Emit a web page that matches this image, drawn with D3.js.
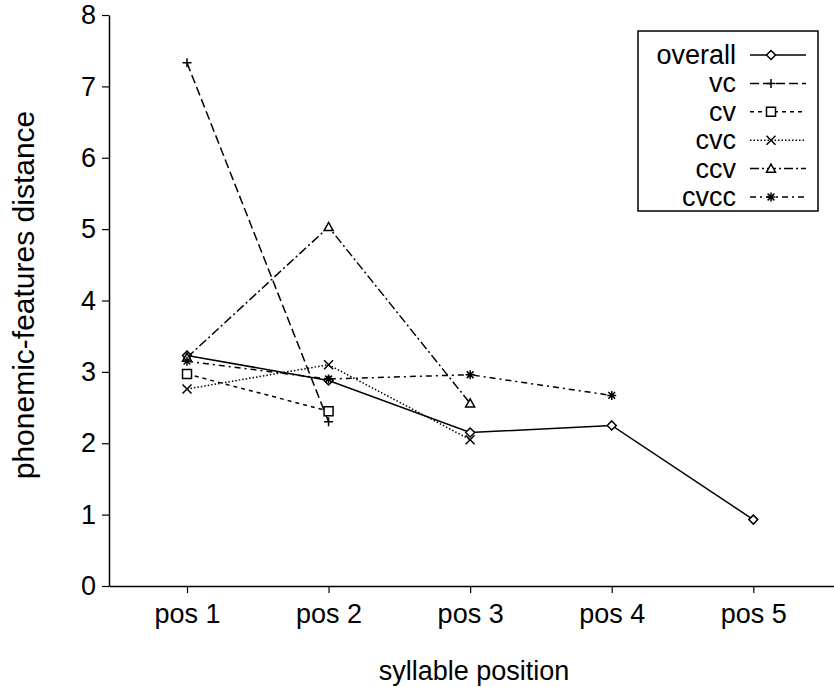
<!DOCTYPE html>
<html>
<head>
<meta charset="utf-8">
<script src="https://cdn.jsdelivr.net/npm/d3@7"></script>
<style>
  body { margin: 0; background: #fff; }
  text { font-family: "Liberation Sans", Arial, sans-serif; fill: #000; }
</style>
</head>
<body>
<script>
// data
const positions = [1, 2, 3, 4, 5];
const posLabels = ["pos 1", "pos 2", "pos 3", "pos 4", "pos 5"];
const yTicks = [0, 1, 2, 3, 4, 5, 6, 7, 8];

const seriesNames = ["overall", "vc", "cv", "cvc", "ccv", "cvcc"];
const overall = [3.23, 2.88, 2.15, 2.25, 0.93];
const vc = [7.33, 2.3];
const cv = [2.97, 2.45];
const cvc = [2.76, 3.1, 2.05];
const ccv = [3.2, 5.03, 2.56];
const cvcc = [3.15, 2.9, 2.96, 2.67];

const seriesValues = [overall, vc, cv, cvc, ccv, cvcc];
const dashes = [null, "9,4", "4,4", "1.5,2", "9,3,2,3", "6,4,2,4"];
const markers = ["diamond", "plus", "square", "cross", "triangle", "star"];

const width = 834, height = 687;

let svg = d3.select("body").append("svg")
    .attr("width", width)
    .attr("height", height);

let x = d3.scaleLinear().domain([0.449, 5.57]).range([109, 834]);
let y = d3.scaleLinear().domain([0, 8]).range([586, 15]);

// axes
let xAxis = svg.append("g")
    .attr("transform", `translate(0, ${y(0)})`)
    .call(d3.axisBottom(x).tickValues(positions)
        .tickFormat((d, i) => posLabels[i]).tickSize(7).tickPadding(11).tickSizeOuter(0));
let yAxis = svg.append("g")
    .attr("transform", `translate(${x.range()[0]}, 0)`)
    .call(d3.axisLeft(y).tickValues(yTicks).tickSize(7).tickPadding(6).tickSizeOuter(0));

[xAxis, yAxis].forEach(a => {
    a.select(".domain").attr("stroke", "#000").attr("stroke-width", 1.5);
    a.selectAll(".tick line").attr("stroke", "#000").attr("stroke-width", 1.2);
    a.selectAll(".tick text")
        .style("font-family", "'Liberation Sans', Arial, sans-serif")
        .style("font-size", "27px").attr("fill", "#000");
});

svg.append("text")
    .attr("x", 474).attr("y", 680)
    .attr("text-anchor", "middle")
    .style("font-size", "27px")
    .text("syllable position");

svg.append("text")
    .attr("transform", "translate(34, 295) rotate(-90)")
    .attr("text-anchor", "middle")
    .style("font-size", "30px")
    .text("phonemic-features distance");

function markerPath(type, cx, cy) {
    const r = 4.5;
    let p = d3.path();
    if (type === "diamond") {
        p.moveTo(cx, cy - r); p.lineTo(cx + r, cy); p.lineTo(cx, cy + r); p.lineTo(cx - r, cy); p.closePath();
    } else if (type === "plus") {
        p.moveTo(cx - r, cy); p.lineTo(cx + r, cy); p.moveTo(cx, cy - r); p.lineTo(cx, cy + r);
    } else if (type === "square") {
        p.rect(cx - r, cy - r, 2 * r, 2 * r);
    } else if (type === "cross") {
        p.moveTo(cx - r, cy - r); p.lineTo(cx + r, cy + r); p.moveTo(cx + r, cy - r); p.lineTo(cx - r, cy + r);
    } else if (type === "triangle") {
        p.moveTo(cx, cy - r); p.lineTo(cx + r, cy + r * 0.8); p.lineTo(cx - r, cy + r * 0.8); p.closePath();
    } else if (type === "star") {
        p.moveTo(cx - r, cy); p.lineTo(cx + r, cy); p.moveTo(cx, cy - r); p.lineTo(cx, cy + r);
        p.moveTo(cx - r * 0.75, cy - r * 0.75); p.lineTo(cx + r * 0.75, cy + r * 0.75);
        p.moveTo(cx + r * 0.75, cy - r * 0.75); p.lineTo(cx - r * 0.75, cy + r * 0.75);
    }
    return p.toString();
}

let line = d3.line().x((d, i) => x(positions[i])).y(d => y(d));

seriesValues.forEach((vals, k) => {
    let g = svg.append("g");
    g.append("path")
        .attr("d", line(vals))
        .attr("fill", "none")
        .attr("stroke", "#000")
        .attr("stroke-width", 1.5)
        .attr("stroke-dasharray", dashes[k]);
    g.selectAll("path.mk")
        .data(vals)
        .enter().append("path")
        .attr("class", "mk")
        .attr("d", (d, i) => markerPath(markers[k], x(positions[i]), y(d)))
        .attr("fill", markers[k] === "star" ? "#000" : "#fff")
        .attr("stroke", "#000")
        .attr("stroke-width", 1.5);
});

// legend
let legend = svg.append("g");
legend.append("rect")
    .attr("x", 638).attr("y", 31).attr("width", 180).attr("height", 180)
    .attr("fill", "#fff").attr("stroke", "#000").attr("stroke-width", 1.5);

seriesNames.forEach((name, k) => {
    let ly = 55 + k * 28.4;
    legend.append("text")
        .attr("x", 736).attr("y", ly + 9)
        .attr("text-anchor", "end")
        .style("font-size", "27px")
        .text(name);
    legend.append("line")
        .attr("x1", 750).attr("x2", 806).attr("y1", ly).attr("y2", ly)
        .attr("stroke", "#000").attr("stroke-width", 1.5)
        .attr("stroke-dasharray", dashes[k]);
    legend.append("path")
        .attr("d", markerPath(markers[k], 771, ly))
        .attr("fill", markers[k] === "star" ? "#000" : "#fff")
        .attr("stroke", "#000").attr("stroke-width", 1.5);
});
</script>
</body>
</html>
